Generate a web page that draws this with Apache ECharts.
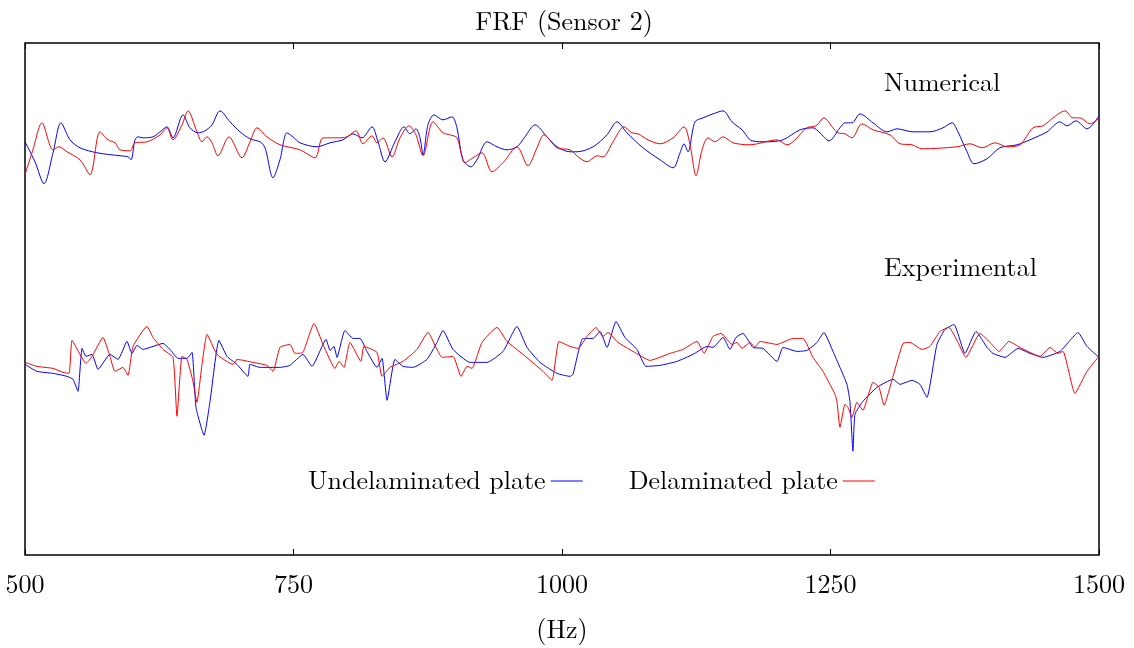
<!DOCTYPE html>
<html>
<head>
<meta charset="utf-8">
<script src="https://cdn.jsdelivr.net/npm/echarts@6/dist/echarts.min.js"></script>
<style>
  html, body { margin: 0; padding: 0; background: #fff; }
  #main { width: 1134px; height: 648px; }
</style>
</head>
<body>
<div id="main"></div>
<script>
// [frequency Hz, FRF amplitude (arbitrary units)]
var numUndelaminated = [
  [500,41.4],[509.3,39.4],[517.7,37.2],[526.1,40.3],[533.5,43.3],[541.9,41.6],[551.2,40.8],[567,40.3],[588.5,40.0],[595.9,39.9],
  [598.7,39.6],[602.4,41.6],[605.2,41.9],[609.9,41.8],[619.2,41.9],[625.7,42.4],[632.2,42.9],[637.8,41.8],[647.1,44.1],[653.6,42.8],
  [661.1,42.3],[667.6,42.5],[674.1,43.1],[681.6,44.5],[690.9,43.4],[700.2,42.4],[709.5,41.7],[718.8,41.4],[723.5,40.8],[730.9,37.8],
  [737.4,39.6],[743.9,42.3],[749.5,41.9],[756,41.3],[771.9,40.9],[784,41.3],[796.1,41.6],[805.4,42.2],[813.8,41.8],[823.1,42.9],
  [828.7,41.4],[835.2,39.4],[844.5,41.4],[852.9,42.9],[858.5,42.2],[864,42.7],[867.8,41.8],[870.6,40.1],[875.2,43.1],[880.8,44.1],
  [889.2,43.6],[897.6,43.9],[902.2,42.8],[907.8,39.6],[915.3,38.9],[920.8,39.6],[930.2,41.4],[939.5,40.9],[948.8,40.6],[958.1,40.9],
  [965.5,41.9],[974.9,43.1],[986,41.9],[995.3,40.9],[1007.4,40.4],[1014,40.4],[1028.9,40.9],[1041.9,42.1],[1051.2,43.4],[1060.5,42.3],
  [1075.4,40.8],[1091.2,39.6],[1103.4,38.8],[1109.9,40.3],[1113.6,41.2],[1117.3,40.4],[1123.8,43.4],[1131.3,43.8],[1140.6,44.2],[1149.9,44.5],
  [1158.3,43.4],[1167.6,42.6],[1176.9,41.5],[1190.9,41.4],[1205.8,41.6],[1221.6,42.6],[1233.7,42.8],[1240.2,42.3],[1248.6,41.5],[1258.8,42.8],
  [1263.5,43.3],[1270,43.3],[1277.4,44.2],[1289.6,43.3],[1302.6,42.4],[1311.9,42.7],[1326.8,42.4],[1342.6,42.4],[1354.7,42.8],[1363.1,43.3],
  [1368.7,42.4],[1377.1,40.4],[1383.6,39.2],[1395.7,39.7],[1407.8,40.8],[1423.6,41.1],[1435.7,41.6],[1451.6,42.4],[1463.7,43.4],[1470.2,43.0],
  [1478.6,43.5],[1488.8,42.7],[1500,44.0]
]

var numDelaminated = [
  [500,38.1],[507.4,40.6],[515.8,43.3],[526.1,40.6],[531.7,40.9],[539.1,40.4],[551.2,39.6],[560.5,38.1],[569.8,42.4],[577.3,41.6],
  [583.8,41.3],[588.5,40.6],[597.8,40.5],[602.4,41.3],[613.6,41.4],[625.7,42.1],[632.2,42.8],[637.8,41.6],[646.2,43.1],[651.8,44.5],
  [660.1,42.4],[664.8,41.4],[669.5,41.9],[674.1,41.3],[679.7,40.0],[689.9,41.9],[702,39.8],[709.5,41.4],[716,42.8],[725.3,41.9],
  [737.4,41.1],[756,40.6],[770,39.8],[777.5,41.8],[790.5,41.8],[799.8,41.9],[808.2,42.5],[814.7,41.2],[823.1,42.0],[827.7,41.3],
  [833.3,41.8],[841.7,39.9],[849.2,41.8],[857.5,43.0],[864,42.1],[870.6,40.0],[879.9,43.4],[889.2,42.3],[895.7,42.1],[902.2,41.8],
  [909.7,39.3],[917.1,39.8],[925.5,40.3],[934.8,38.4],[945.1,39.3],[958.1,40.9],[968.3,39.0],[976.7,40.8],[983.2,42.1],[995.3,40.8],
  [1007.4,40.6],[1014.9,39.9],[1023.3,39.4],[1032.6,40.0],[1038.2,39.9],[1047.5,41.4],[1057.7,42.9],[1065.2,42.3],[1070.8,42.2],[1080.1,41.6],
  [1091.2,41.2],[1103.4,41.8],[1113.6,42.9],[1119.2,41.1],[1124.8,38.0],[1130.4,40.6],[1135.9,41.8],[1142.5,41.4],[1149.9,41.9],[1159.2,41.3],
  [1175,41.1],[1200.2,41.6],[1209.5,41.1],[1228.1,42.8],[1236.5,43.0],[1243.9,43.8],[1252.3,42.8],[1257,42.3],[1263.5,42.2],[1270,41.8],
  [1279.3,43.2],[1289.6,42.6],[1305.4,42.1],[1314.7,41.2],[1325.9,41.1],[1335.2,40.7],[1367.8,40.9],[1379.9,41.2],[1391.1,40.8],[1403.2,41.3],
  [1414.3,40.9],[1426.4,41.1],[1438.5,42.8],[1447.8,43.0],[1457.2,43.8],[1468.3,44.5],[1475.8,43.8],[1482.3,43.8],[1491.6,43.2],[1500,43.8]
]

var expUndelaminated = [
  [500,19.1],[511.2,18.4],[526.1,18.2],[539.1,17.9],[544.7,17.6],[549.3,16.4],[553.1,20.7],[556.8,19.9],[562.4,20.1],[568,18.6],
  [579.1,20.1],[586.6,19.6],[595,21.4],[599.6,20.2],[604.3,21.0],[609.9,20.6],[619.2,20.9],[628.5,21.2],[635,20.6],[642.5,19.7],
  [650.8,19.7],[655.5,20.3],[659.2,14.8],[666.7,12.0],[672.3,15.4],[680.6,21.5],[688.1,19.9],[697.4,19.1],[707.6,17.9],[709.5,19.1],
  [718.8,18.8],[737.4,18.8],[746.7,19.0],[758.8,20.1],[767.2,18.9],[780.3,21.6],[784,20.5],[787.7,20.9],[790.5,19.8],[797.9,22.5],
  [805.4,21.7],[811.9,21.7],[818.4,20.4],[827.7,18.8],[832.4,19.7],[837.1,15.5],[844.5,19.6],[852,18.9],[861.3,18.8],[874.3,19.6],
  [883.6,21.3],[889.2,22.5],[898.5,20.6],[914.3,19.3],[930.2,19.3],[945.1,20.4],[958.1,22.9],[967.4,20.8],[979.5,19.3],[995.3,18.2],
  [1007.4,17.9],[1010.2,18.1],[1019.5,21.7],[1028.9,21.7],[1035.4,22.4],[1041.9,20.8],[1050.3,23.4],[1058.6,21.8],[1069.8,20.6],[1078.2,18.9],
  [1091.2,19.0],[1107.1,19.4],[1122,20.1],[1135,20.9],[1140.6,20.8],[1149.9,21.8],[1156.4,20.6],[1162,21.8],[1168.5,22.2],[1177.8,20.8],
  [1187.1,20.7],[1200.2,19.4],[1205.8,20.8],[1218.8,20.4],[1228.1,20.5],[1237.4,21.3],[1243.9,22.3],[1252.3,20.4],[1258.8,18.8],[1265.3,17.1],
  [1268.1,15.4],[1270.9,10.4],[1272.8,14.1],[1280.2,15.4],[1293.3,16.8],[1308.2,17.6],[1314.7,17.1],[1325.9,17.5],[1333.3,17.1],[1339.8,15.8],
  [1349.1,21.1],[1356.6,22.6],[1365,23.1],[1375.2,20.2],[1385.5,22.4],[1395.7,20.8],[1401.3,20.2],[1412.5,19.8],[1424.6,20.7],[1435.7,20.2],
  [1447.8,19.8],[1463.7,20.4],[1473,21.5],[1480.4,22.3],[1488.8,20.9],[1500,19.8]
]

var expDelaminated = [
  [500,19.3],[511.2,18.9],[526.1,18.7],[535.4,18.3],[541,18.2],[543.8,21.5],[551.2,20.1],[556.8,19.2],[562.4,19.9],[572.6,21.8],
  [579.1,19.9],[583.8,18.4],[591.2,18.8],[595.9,18.0],[600.6,20.9],[613.6,22.9],[619.2,21.8],[628.5,20.6],[637.8,19.8],[641.5,13.9],
  [646.2,19.9],[650.8,19.6],[656.4,17.4],[660.1,15.3],[664.8,19.1],[669.5,22.1],[678.8,20.1],[693.7,19.1],[697.4,19.6],[712.3,19.3],
  [725.3,19.0],[730.9,18.4],[737.4,20.8],[746.7,21.1],[751.4,20.2],[758.8,20.3],[769.1,23.2],[777.5,21.1],[788.6,18.7],[792.4,19.4],
  [797,18.8],[802.6,21.3],[812.8,19.4],[815.6,20.9],[827.7,20.3],[832.4,17.9],[839.8,18.8],[852,19.4],[865,20.6],[875.2,22.3],
  [883.6,20.6],[888.3,19.8],[898.5,19.9],[906,17.9],[911.5,18.9],[916.2,18.7],[925.5,21.3],[939.5,22.8],[948.8,21.4],[963.7,20.1],
  [982.3,18.4],[990.7,17.5],[997.2,21.4],[1007.4,20.9],[1014.9,20.7],[1023.3,21.9],[1031.6,22.8],[1038.2,21.9],[1042.8,22.3],[1052.1,21.3],
  [1066.1,20.4],[1081.9,19.5],[1100.6,20.2],[1112.7,20.6],[1125.7,21.4],[1132.2,20.2],[1140.6,21.9],[1148,22.2],[1158.3,21.1],[1163,21.3],
  [1167.6,20.7],[1175,21.3],[1179.7,20.8],[1184.4,21.4],[1200.2,21.1],[1215.1,21.7],[1224.4,21.7],[1233.7,19.8],[1243,18.4],[1249.5,17.1],
  [1254.2,16.1],[1256,15.4],[1258.8,12.8],[1263.5,15.1],[1266.2,14.8],[1270,13.8],[1274.6,15.3],[1280.2,14.5],[1289.6,17.3],[1295.2,16.8],
  [1299.8,15.0],[1308.2,17.9],[1317.5,21.2],[1324,21.3],[1335.2,20.6],[1342.6,20.9],[1351.9,22.4],[1360.3,22.8],[1368.7,21.3],[1376.1,19.8],
  [1389.2,22.2],[1398.5,21.3],[1406.9,20.4],[1416.2,21.4],[1426.4,20.8],[1435.7,20.3],[1445,19.9],[1454.4,20.8],[1461.8,20.2],[1466.5,20.4],
  [1477.6,16.2],[1488.8,18.4],[1500,19.9]
]

var freqTicks = [500, 750, 1000, 1250, 1500]
var legendNames = ["Undelaminated plate", "Delaminated plate"]

var font = "'Latin Modern Roman', 'Liberation Serif', serif"
var chart = echarts.init(document.getElementById("main"))

function curve(name, data, color, smooth) {
  return {
    name: name,
    type: "line",
    data: data,
    symbol: "none",
    smooth: smooth,
    lineStyle: { color: color, width: 1 },
    itemStyle: { color: color },
    animation: false
  }
}

var option = {
  backgroundColor: "#fff",
  title: {
    text: "FRF (Sensor 2)",
    left: 559,
    textAlign: "center",
    top: 4,
    textStyle: { fontFamily: font, fontWeight: "normal", fontSize: 26, color: "#000" }
  },
  legend: {
    data: legendNames,
    left: 303,
    top: 463,
    align: "right",
    icon: "rect",
    itemWidth: 32,
    itemHeight: 1,
    itemGap: 46,
    textStyle: { fontFamily: font, fontSize: 26, color: "#000" }
  },
  grid: {
    left: 25,
    right: 35,
    top: 43,
    bottom: 92,
    show: true,
    borderColor: "#000",
    borderWidth: 1.5
  },
  xAxis: [
    {
      type: "value",
      min: freqTicks[0],
      max: freqTicks[freqTicks.length - 1],
      interval: 250,
      name: "(Hz)",
      nameLocation: "middle",
      nameGap: 62,
      nameTextStyle: { fontFamily: font, fontSize: 26, color: "#000" },
      axisLine: { show: false },
      axisTick: { show: true, inside: true, length: 6, lineStyle: { color: "#000" } },
      axisLabel: {
        fontFamily: font, fontSize: 26, color: "#000", margin: 17,
        formatter: function (v) { return String(v) }
      },
      splitLine: { show: false }
    },
    {
      type: "value",
      position: "top",
      min: freqTicks[0],
      max: freqTicks[freqTicks.length - 1],
      interval: 250,
      axisLine: { show: false },
      axisTick: { show: true, inside: true, length: 6, lineStyle: { color: "#000" } },
      axisLabel: { show: false },
      splitLine: { show: false }
    }
  ],
  yAxis: {
    type: "value",
    min: 0,
    max: 51.3,
    axisLine: { show: false },
    axisTick: { show: false },
    axisLabel: { show: false },
    splitLine: { show: false }
  },
  graphic: [
    { type: "text", left: 884, top: 70, style: { text: "Numerical", font: "26px " + font, fill: "#000" } },
    { type: "text", left: 884, top: 255, style: { text: "Experimental", font: "26px " + font, fill: "#000" } }
  ],
  series: [
    curve(legendNames[0], numUndelaminated, "#0000ff", 0.3),
    curve(legendNames[1], numDelaminated, "#ff0000", 0.3),
    curve(legendNames[0], expUndelaminated, "#0000ff", 0.15),
    curve(legendNames[1], expDelaminated, "#ff0000", 0.15)
  ]
}

option && chart.setOption(option)
</script>
</body>
</html>
